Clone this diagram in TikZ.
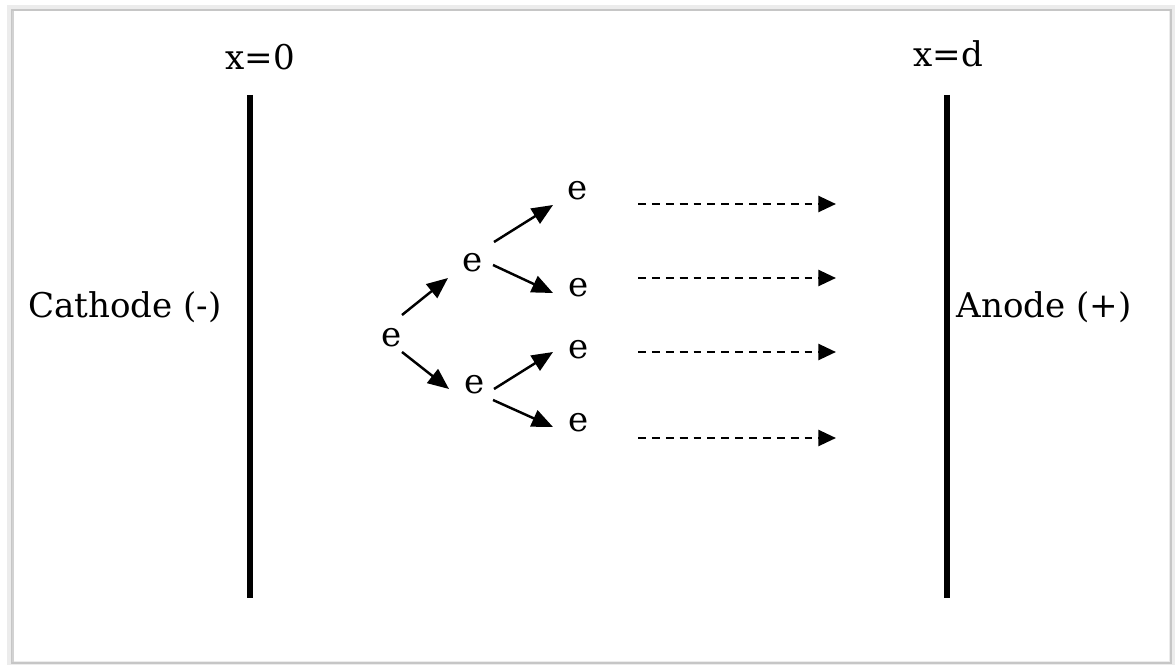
\documentclass[tikz,border=0pt]{standalone}
\usepackage{fontspec}
\setmainfont{DejaVu Serif}
\usetikzlibrary{arrows.meta}
\begin{document}
\begin{tikzpicture}[x=0.02cm,y=-0.02cm,
  lbl/.style={inner sep=0pt,font=\fontsize{19.4}{23}\selectfont},
  enode/.style={inner sep=0pt,font=\fontsize{19.4}{23}\selectfont},
  plate/.style={line width=3.2pt,black},
  split/.style={line width=1.4pt,-{Triangle[length=12pt,width=10pt]}},
  drift/.style={line width=1.5pt,dash pattern=on 4.5pt off 3.4pt,-{Triangle[length=10pt,width=9pt]}}]
\useasboundingbox (0,0) rectangle (1175,665);
% frame with soft shadow
\draw[gray!15,line width=3pt] (10,8) rectangle (1172,664);
\draw[gray!45,line width=0.8pt] (12,10) rectangle (1171,663);
\draw[gray!35,line width=1.4pt] (13,11) -- (13,662);
% plates
\coordinate (ct) at (250,95); \coordinate (cb) at (250,598);
\coordinate (at) at (947,95); \coordinate (ab) at (947,598);
\draw[plate] (ct) -- (cb);
\draw[plate] (at) -- (ab);
% labels
\node[lbl,anchor=base] (x0) at (260,70) {x=0};
\node[lbl,anchor=base] (xd) at (948,67) {x=d};
\node[lbl,anchor=base] (cath) at (125,317) {Cathode (-)};
\node[lbl,anchor=base] (anod) at (1044,317) {Anode (+)};
% electrons
\node[enode] (e0) at (392,338) {e};
\node[enode] (e1) at (473,263) {e};
\node[enode] (e2) at (475,385) {e};
\node[enode] (e11) at (578,191) {e};
\node[enode] (e12) at (579,288) {e};
\node[enode] (e21) at (579,350) {e};
\node[enode] (e22) at (579,423) {e};
% cascade arrows
\draw[split] ([shift={(10,-23)}]e0.center) -- ([shift={(-25,15)}]e1.center);
\draw[split] ([shift={(10,14)}]e0.center) -- ([shift={(-26,4)}]e2.center);
\draw[split] ([shift={(21,-21)}]e1.center) -- ([shift={(-25,14)}]e11.center);
\draw[split] ([shift={(20,2)}]e1.center) -- ([shift={(-26,5)}]e12.center);
\draw[split] ([shift={(19,4)}]e2.center) -- ([shift={(-26,2)}]e21.center);
\draw[split] ([shift={(18,15)}]e2.center) -- ([shift={(-26,4)}]e22.center);
% drift arrows
\coordinate (d1s) at (638,204); \coordinate (d1e) at (836,204);
\coordinate (d2s) at (638,278); \coordinate (d2e) at (836,278);
\coordinate (d3s) at (638,352); \coordinate (d3e) at (836,352);
\coordinate (d4s) at (638,438); \coordinate (d4e) at (836,438);
\draw[drift] (d1s) -- (d1e);
\draw[drift] (d2s) -- (d2e);
\draw[drift] (d3s) -- (d3e);
\draw[drift] (d4s) -- (d4e);
\end{tikzpicture}
\end{document}
